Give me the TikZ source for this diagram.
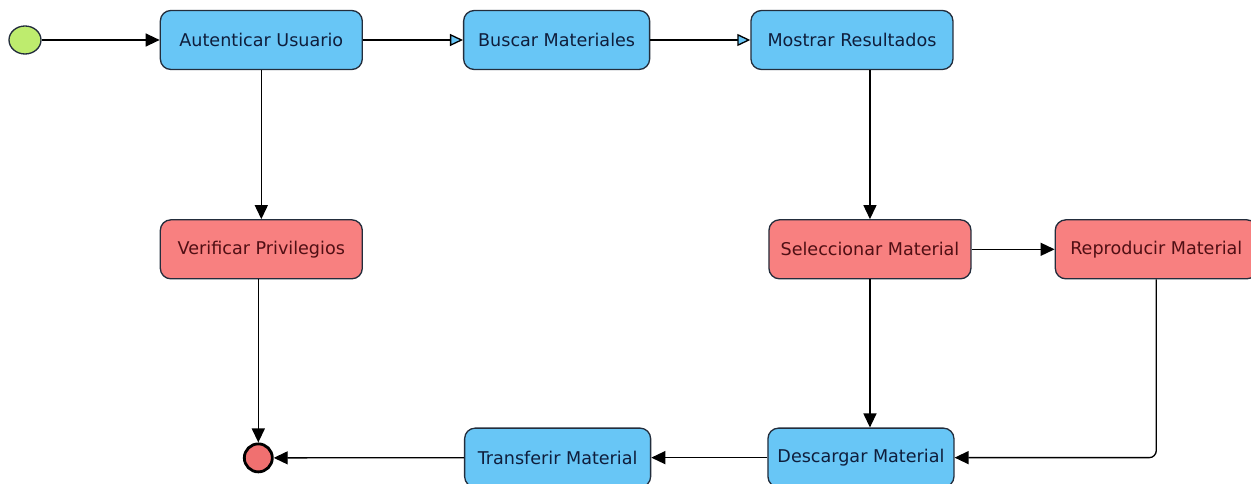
\documentclass[tikz,border=0pt]{standalone}
\usepackage{fontspec}
\setmainfont{DejaVu Sans}
\usepackage{tikz}
\usetikzlibrary{arrows.meta,shapes.geometric,positioning}
\definecolor{actblue}{RGB}{104,198,246}
\definecolor{actred}{RGB}{248,128,128}
\definecolor{txtblue}{RGB}{15,30,60}
\definecolor{txtred}{RGB}{80,15,20}
\definecolor{edge}{RGB}{35,45,60}
\definecolor{startgreen}{RGB}{190,236,110}
\definecolor{endred}{RGB}{240,112,112}

\begin{document}
\begin{tikzpicture}[
  font=\fontsize{10}{12}\selectfont,
  bact/.style={draw=edge,fill=actblue,text=txtblue,rounded corners=6pt,
               minimum width=4.04cm,minimum height=1.18cm,
               align=center,inner sep=2pt,line width=0.75pt},
  ract/.style={bact,fill=actred,text=txtred},
  startnode/.style={ellipse,draw=edge,fill=startgreen,line width=0.75pt,
                    minimum width=0.64cm,minimum height=0.56cm,inner sep=0pt},
  endnode/.style={circle,draw=black,fill=endred,line width=1.6pt,
                  minimum size=0.56cm,inner sep=0pt},
  arr/.style={-{Triangle[length=2.8mm,width=2.6mm]},line width=0.75pt},
  oarr/.style={-{Triangle[length=2.6mm,width=2.4mm,fill=actblue]},
               line width=0.75pt},
]
  \useasboundingbox (0,0) rectangle (25.02,-9.68);

  \node[startnode] (ini) at (0.5,-0.8) {};
  \node[bact,right=2.36cm of ini] (aut) {Autenticar Usuario};
  \node[bact,right=2cm of aut,minimum width=3.72cm] (bus) {Buscar Materiales};
  \node[bact,right=2cm of bus] (mos) {Mostrar Resultados};

  \node[ract,below=2.98cm of aut] (ver) {Verificar Privilegios};
  \node[ract,below=2.98cm of mos,xshift=0.36cm] (sel) {Seleccionar Material};
  \node[ract,right=1.66cm of sel] (rep) {Reproducir Material};

  \node[bact,below=2.96cm of sel,xshift=-0.18cm,minimum width=3.72cm]
    (des) {Descargar Material};
  \node[bact,left=2.32cm of des,minimum width=3.72cm] (tra) {Transferir Material};
  \node[endnode,below=3.26cm of ver,xshift=-0.06cm] (fin) {};

  \draw[arr] (ini) -- (aut);
  \draw[oarr] (aut) -- (bus);
  \draw[oarr] (bus) -- (mos);
  \draw[arr] (aut) -- (ver);
  \draw[arr] (mos.south -| sel) -- (sel);
  \draw[arr] (sel) -- (rep);
  \draw[arr] (sel.south) -- (sel.south |- des.north);
  \draw[arr,rounded corners=4pt] (rep.south) |- (des.east);
  \draw[arr] (des) -- (tra);
  \draw[arr] (tra) -- (fin);
  \draw[arr] (ver.south -| fin) -- (fin);
\end{tikzpicture}
\end{document}
